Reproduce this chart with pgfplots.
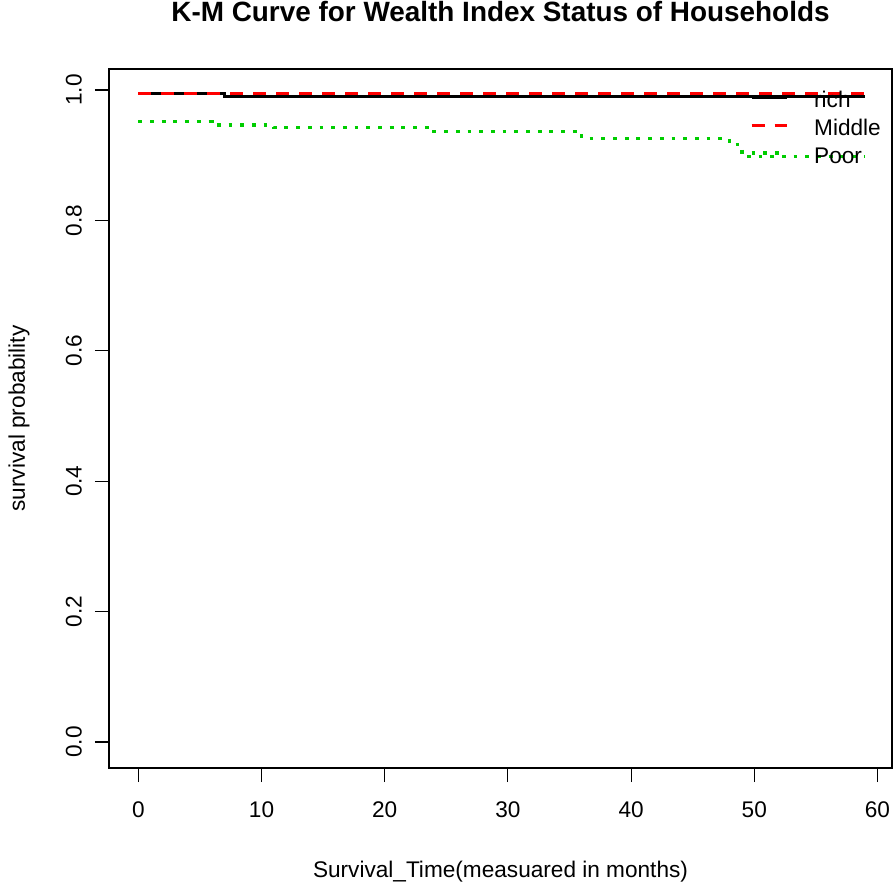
\documentclass[border=0pt]{standalone}
\usepackage{pgfplots}
\pgfplotsset{compat=1.18}
\usepackage{fontspec}
\setmainfont{Liberation Sans}
\definecolor{rgreen}{RGB}{0,205,0}
\begin{document}
\begin{tikzpicture}
\begin{axis}[
  scale only axis, width=783bp, height=699bp,
  xmin=-2.38, xmax=61.18, ymin=-0.0399, ymax=1.0322,
  axis line style={line width=1.1bp},
  xtick={0,10,20,30,40,50,60}, ytick={0,0.2,0.4,0.6,0.8,1},
  tick align=outside, major tick length=14bp,
  every tick/.style={black, line width=1.1bp},
  xtick pos=bottom, ytick pos=left,
  tick label style={font=\fontsize{22.7}{27}\selectfont},
  /pgf/number format/assume math mode=true,
  yticklabel style={rotate=90, anchor=south, inner sep=0pt, /pgf/number format/.cd, fixed, fixed zerofill, precision=1},
  xticklabel style={anchor=north, inner sep=0pt},
  xticklabel shift=20bp, yticklabel shift=13bp,
  title={K-M Curve for Wealth Index Status of Households},
  title style={font=\fontsize{28}{32}\selectfont\bfseries, at={(axis description cs:0.5,1)}, anchor=base, yshift=42bp, inner sep=0pt},
  xlabel={Survival\_Time(measuared in months)},
  xlabel style={font=\fontsize{22.7}{27}\selectfont, at={(axis description cs:0.5,0)}, anchor=base, yshift=-109bp, inner sep=0pt},
  ylabel={survival probability},
  ylabel style={font=\fontsize{22.7}{27}\selectfont, at={(axis description cs:-0.1073,0.5)}, anchor=base, inner sep=0pt},
  legend image code/.code={\draw[#1] (0bp,0bp) -- (35bp,0bp);},
  legend cell align=left,
  legend style={draw=none, fill=none, inner sep=0pt, outer sep=0pt,
    at={(axis description cs:0.8186,0.9742)}, anchor=north west,
    font=\fontsize{22.7}{27}\selectfont, row sep=8bp, column sep=26bp,
    nodes={inner sep=0pt, text height=20bp, text depth=0bp}},
]
\addplot[const plot, black, line width=3bp] coordinates {(0,0.9939) (7,0.9897) (59,0.9897)};
\addlegendentry{rich}
\addplot[const plot, red, line width=3bp, dash pattern=on 13bp off 10bp] coordinates {(0,0.9939) (59,0.9939)};
\addlegendentry{Middle}
\addplot[const plot, rgreen, line width=3.2bp, dash pattern=on 3.8bp off 7.9bp] coordinates {(0,0.9514) (6,0.9463) (11,0.9422) (24,0.9360) (36,0.9259) (48,0.9165) (49,0.8977) (59,0.8977)};
\addlegendentry{Poor}
\end{axis}
\useasboundingbox ([shift={(-109bp,-115bp)}]current axis.south west) rectangle ++(896bp,883bp);
\end{tikzpicture}
\end{document}
